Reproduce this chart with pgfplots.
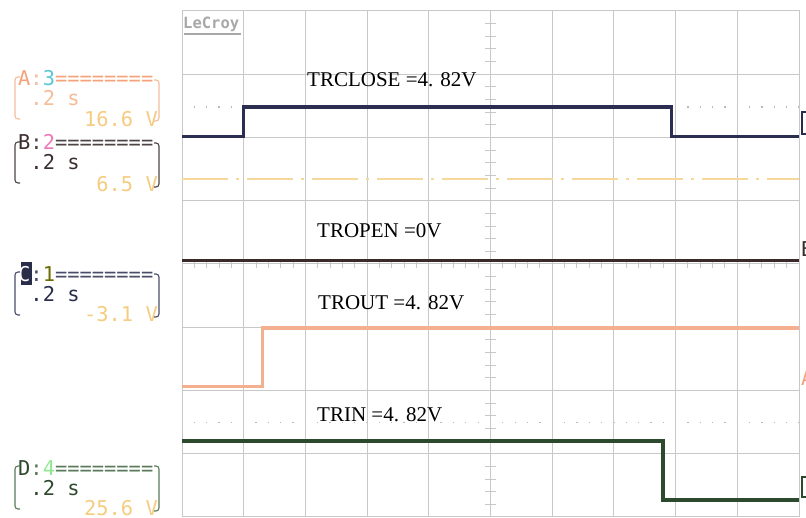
\documentclass[border=0pt]{standalone}
\usepackage{pgfplots}
\pgfplotsset{compat=1.18}
\usepackage{fontspec}
\setmainfont{Liberation Serif}
\newfontfamily\scopefont{DejaVu Sans Mono}
\newfontfamily\trfont{Liberation Serif}
\definecolor{gridc}{HTML}{C8C8C8}
\definecolor{dotc}{HTML}{B8B8B8}
\definecolor{trclose}{HTML}{2B2E50}
\definecolor{ychan}{HTML}{F5D89A}
\definecolor{tropen}{HTML}{3B2A2A}
\definecolor{trout}{HTML}{F4B08E}
\definecolor{trin}{HTML}{2E4A2E}
\definecolor{chA}{HTML}{F4A37A}
\definecolor{chAl}{HTML}{F5BC9A}
\definecolor{cyanA}{HTML}{5BC8D8}
\definecolor{volt}{HTML}{F5CC80}
\definecolor{chB}{HTML}{3A2E2E}
\definecolor{chBl}{HTML}{4E4444}
\definecolor{pinkB}{HTML}{F07AB8}
\definecolor{chC}{HTML}{2A2D4A}
\definecolor{chCl}{HTML}{4A4D6A}
\definecolor{oliveC}{HTML}{6B6B00}
\definecolor{chD}{HTML}{2E4A2E}
\definecolor{chDl}{HTML}{5A7A5A}
\definecolor{greenD}{HTML}{90E890}
\definecolor{logoc}{HTML}{A8A8A8}
\begin{document}
\begin{tikzpicture}[x=1pt,y=1pt]
\useasboundingbox (0,0) rectangle (806,518);
\fill[white] (0,0) rectangle (806,518);
% reference dotted levels and centre ticks (behind traces)
\draw[dotc, line width=1.3pt, dash pattern=on 1.3pt off 11.04pt, dash phase=0.65pt] (182,410.9) -- (799,410.9);
\draw[dotc, line width=1.3pt, dash pattern=on 1.3pt off 11.04pt, dash phase=0.65pt] (182,95.2) -- (799,95.2);
\foreach \k in {1,...,39} {\draw[gridc, line width=1pt] (485,{1+\k*12.65}) -- (496,{1+\k*12.65});}
\foreach \k in {1,...,49} {\draw[gridc, line width=1pt] ({182+\k*12.34},249.5) -- ({182+\k*12.34},258.5);}
\begin{axis}[at={(182pt,1pt)}, anchor=south west, width=617pt, height=506pt, scale only axis,
  xmin=0, xmax=10, ymin=0, ymax=8, xtick={0,...,10}, ytick={0,...,8},
  xticklabels={}, yticklabels={}, major tick length=0pt,
  grid=major, grid style={gridc, line width=1pt}, axis line style={gridc, line width=1pt}]
\addplot[ychan, line width=1.6pt, dash pattern=on 46pt off 8pt on 3pt off 8pt] coordinates {(0,5.34) (10,5.34)};
\addplot[trclose, line width=3.3pt, const plot] coordinates {(0,6.02) (1.0,6.48) (7.93,6.02) (10,6.02)};
\addplot[tropen, line width=3.3pt] coordinates {(0,4.06) (10,4.06)};
\addplot[trout, line width=3.3pt, const plot] coordinates {(0,2.06) (1.31,2.99) (10,2.99)};
\addplot[trin, line width=3.6pt, const plot] coordinates {(0,1.20) (7.80,0.27) (10,0.27)};
\end{axis}
% LeCroy logo
\node[anchor=base west, inner sep=0, text=logoc, font=\scopefont\bfseries\fontsize{15.5}{16}\selectfont] at (183,489) {LeCroy};
\draw[logoc, line width=1.3pt] (184,484) -- (241,484);
% trace annotations
\begin{scope}[every node/.style={anchor=base west, inner sep=0, font=\trfont\fontsize{21}{22}\selectfont}]
\node at (307,431) {TRCLOSE =4. 82V};
\node at (317,280) {TROPEN =0V};
\node at (318,208) {TROUT =4. 82V};
\node at (317,96) {TRIN =4. 82V};
\end{scope}
% channel descriptors
\begin{scope}[every node/.style={inner sep=0, font=\scopefont\fontsize{20.4}{22}\selectfont}]
% A
\node[anchor=base west] at (18,432) {\textcolor{chA}{A}\textcolor{chAl}{:}\textcolor{cyanA}{3}\textcolor{chA}{========}};
\node[anchor=base west] at (30.3,412) {\textcolor{chAl}{.2 s}};
\node[anchor=base east] at (158,391) {\textcolor{volt}{16.6 V}};
\draw[chAl, line width=1.1pt, rounded corners=3pt] (20,441) -- (15,441) -- (15,399) -- (20,399);
\draw[chAl, line width=1.1pt, rounded corners=3pt] (154,438) -- (159,438) -- (159,397) -- (154,397);
% B
\node[anchor=base west] at (18,368) {\textcolor{chB}{B}\textcolor{chBl}{:}\textcolor{pinkB}{2}\textcolor{chBl}{========}};
\node[anchor=base west] at (30.3,348) {\textcolor{chB}{.2 s}};
\node[anchor=base east] at (158,326) {\textcolor{volt}{6.5 V}};
\draw[chBl, line width=1.1pt, rounded corners=3pt] (20,376) -- (15,376) -- (15,335) -- (20,335);
\draw[chBl, line width=1.1pt, rounded corners=3pt] (154,375) -- (159,375) -- (159,331) -- (154,331);
% C
\fill[chC] (20.5,233) rectangle (32,256);
\node[anchor=base west] at (18,236) {\textcolor{white}{C}\textcolor{chCl}{:}\textcolor{oliveC}{1}\textcolor{chCl}{========}};
\node[anchor=base west] at (30.3,216) {\textcolor{chC}{.2 s}};
\node[anchor=base east] at (158,196) {\textcolor{volt}{-3.1 V}};
\draw[chCl, line width=1.1pt, rounded corners=3pt] (20,246) -- (15,246) -- (15,203) -- (20,203);
\draw[chCl, line width=1.1pt, rounded corners=3pt] (154,244) -- (159,244) -- (159,201) -- (154,201);
% D
\node[anchor=base west] at (18,42) {\textcolor{chD}{D}\textcolor{chDl}{:}\textcolor{greenD}{4}\textcolor{chDl}{========}};
\node[anchor=base west] at (30.3,22) {\textcolor{chD}{.2 s}};
\node[anchor=base east] at (158,2) {\textcolor{volt}{25.6 V}};
\draw[chDl, line width=1.1pt, rounded corners=3pt] (20,52) -- (15,52) -- (15,9) -- (20,9);
\draw[chDl, line width=1.1pt, rounded corners=3pt] (154,52) -- (159,52) -- (159,7) -- (154,7);
% right-edge channel markers (cut by the page edge)
\draw[chC, line width=1.5pt] (802,384) rectangle (814,406);
\node[anchor=base west, text=chB] at (801,261) {B};
\node[anchor=base west, text=chA] at (801,132) {A};
\draw[chD, line width=1.5pt] (802,21) rectangle (814,41);
\end{scope}
\end{tikzpicture}
\end{document}
